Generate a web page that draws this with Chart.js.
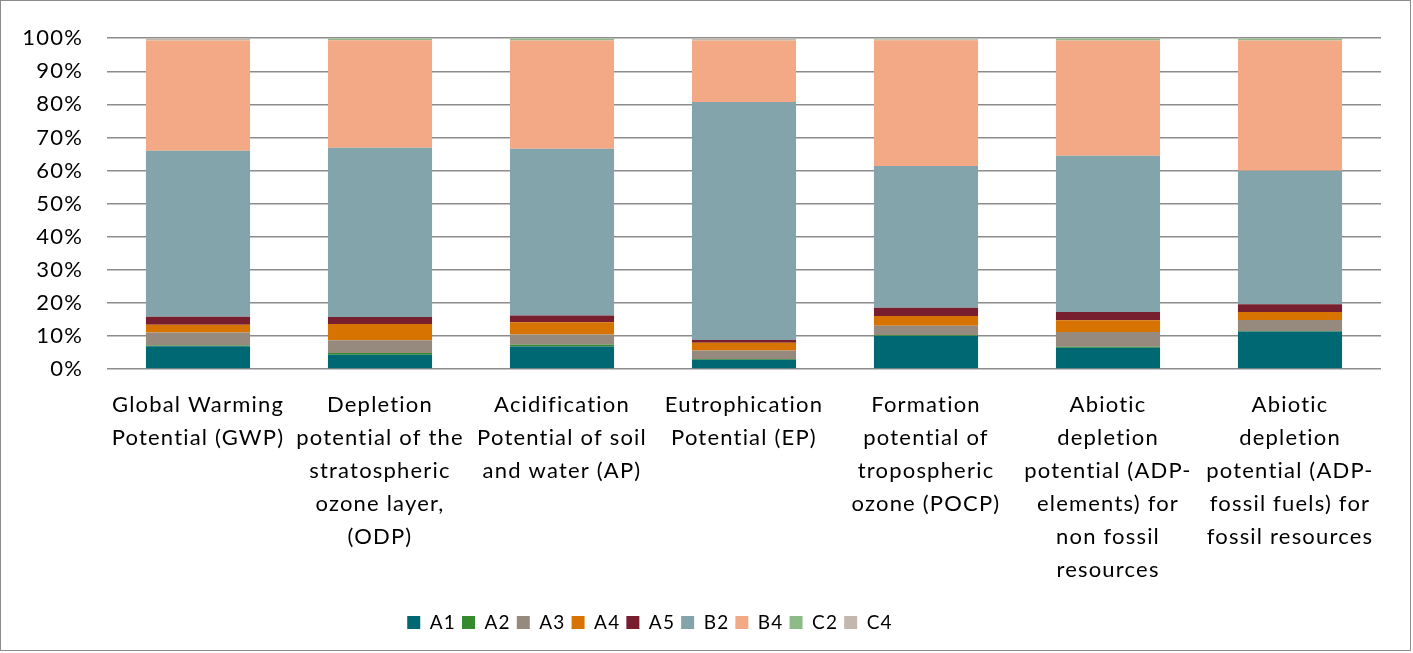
<!DOCTYPE html>
<html>
<head>
<meta charset="utf-8">
<script src="https://cdn.jsdelivr.net/npm/chart.js@4/dist/chart.umd.min.js"></script>
<style>
  html, body { margin: 0; padding: 0; background: #fff; }
  #wrap { position: absolute; left: 0; top: 0; width: 1409px; height: 649px; border: 1px solid #8c8c8c; }
  canvas { display: block; }
</style>
</head>
<body>
<div id="wrap"><canvas id="c" width="1409" height="649"></canvas></div>
<script>
const categories = [
  ["Global Warming", "Potential (GWP)"],
  ["Depletion", "potential of the", "stratospheric", "ozone layer,", "(ODP)"],
  ["Acidification", "Potential of soil", "and water (AP)"],
  ["Eutrophication", "Potential (EP)"],
  ["Formation", "potential of", "tropospheric", "ozone (POCP)"],
  ["Abiotic", "depletion", "potential (ADP-", "elements) for", "non fossil", "resources"],
  ["Abiotic", "depletion", "potential (ADP-", "fossil fuels) for", "fossil resources"]
];
const seriesNames = ["A1", "A2", "A3", "A4", "A5", "B2", "B4", "C2", "C4"];
const A1 = [6.9, 4.3, 6.8, 2.8, 10.0, 6.4, 11.3];
const A2 = [0.2, 0.5, 0.5, 0.2, 0.2, 0.3, 0.2];
const A3 = [3.9, 3.9, 3.1, 2.6, 2.9, 4.5, 3.3];
const A4 = [2.4, 4.9, 3.7, 2.3, 2.9, 3.5, 2.4];
const A5 = [2.4, 2.1, 2.1, 0.9, 2.5, 2.5, 2.4];
const B2 = [50.2, 51.2, 50.4, 71.9, 42.9, 47.3, 40.3];
const B4 = [33.3, 32.5, 32.7, 18.6, 38.0, 34.8, 39.4];
const C2 = [0.1, 0.4, 0.5, 0.1, 0.1, 0.5, 0.5];
const C4 = [0.6, 0.2, 0.2, 0.6, 0.5, 0.2, 0.2];
const yTicks = [0, 10, 20, 30, 40, 50, 60, 70, 80, 90, 100];

const colors = ["#006873", "#358A2F", "#968A7E", "#D77300", "#771F2E", "#84A4AC", "#F3A985", "#8DBB88", "#C4B8AE"];
const seriesData = [A1, A2, A3, A4, A5, B2, B4, C2, C4];

const FONT = "Lato, 'Open Sans', sans-serif";
const SPACING = '1.2px';

const spacingPlugin = {
  id: 'spacing',
  beforeInit(chart) { chart.ctx.letterSpacing = SPACING; },
  beforeUpdate(chart) { chart.ctx.letterSpacing = SPACING; },
  beforeDraw(chart) { chart.ctx.letterSpacing = SPACING; },
  afterLayout(chart) {
    // the reference legend sits a little left of the canvas centre
    if (chart.legend) { chart.legend.left -= 41; chart.legend.right -= 41; }
  }
};

new Chart(document.getElementById('c'), {
  type: 'bar',
  plugins: [spacingPlugin],
  data: {
    labels: categories,
    datasets: seriesNames.map((n, i) => ({
      label: n,
      data: seriesData[i],
      backgroundColor: colors[i],
      borderWidth: 0,
      categoryPercentage: 1.0,
      barPercentage: 0.572
    }))
  },
  options: {
    responsive: false,
    animation: false,
    layout: { padding: { left: 0, right: 29, top: 36, bottom: 8 } },
    plugins: {
      tooltip: { enabled: false },
      legend: {
        position: 'bottom',
        labels: {
          boxWidth: 13, boxHeight: 13, padding: 6,
          color: '#000',
          font: { family: FONT, size: 19 }
        }
      }
    },
    scales: {
      x: {
        stacked: true,
        grid: { display: false, drawTicks: false },
        border: { display: false },
        ticks: {
          color: '#000', padding: 19, maxRotation: 0, autoSkip: false,
          font: { family: FONT, size: 22, lineHeight: 1.5 }
        },
        afterFit: (s) => { s.height = 238; }
      },
      y: {
        stacked: true,
        min: 0, max: 100,
        afterBuildTicks: (s) => { s.ticks = yTicks.map(v => ({ value: v })); },
        grid: { color: '#8c8c8c', lineWidth: 1.5, drawTicks: false },
        border: { display: false },
        ticks: {
          color: '#000', padding: 24,
          font: { family: FONT, size: 22 },
          callback: (v) => v + '%'
        },
        afterFit: (s) => { s.width = 106; }
      }
    }
  }
});
</script>
</body>
</html>
